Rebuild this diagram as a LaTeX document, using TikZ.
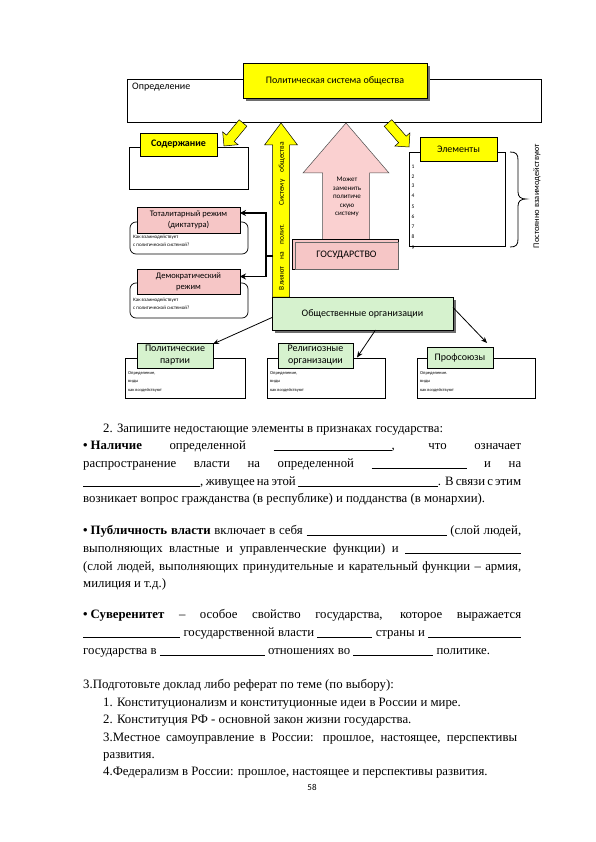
\documentclass[tikz,border=0pt]{standalone}
\usepackage{fontspec}
\setmainfont{Liberation Serif}
\newfontfamily\diagf{Carlito}
\usetikzlibrary{calc,arrows.meta}
\definecolor{ylw}{RGB}{255,255,0}
\definecolor{pnk}{RGB}{246,198,198}
\definecolor{pnkA}{RGB}{250,208,208}
\definecolor{grn}{RGB}{214,242,206}
\definecolor{shd}{RGB}{110,110,110}
\newcommand\bx[7]{\node[#2, minimum width={#5pt-#3pt}, minimum height={#6pt-#4pt}] (#1) at ({(#3+#5)/2},{(#4+#6)/2}) {#7};}
\newcommand\blockarrow[6]{%
  \coordinate (baT) at #2; \coordinate (baH) at #3;
  \coordinate (baN) at ($(baH)!#6!(baT)$);
  \draw[#1] ($(baT)!#4!90:(baH)$) -- ($(baN)!#4!-90:(baT)$) -- ($(baN)!#5!-90:(baT)$) -- (baH) -- ($(baN)!#5!90:(baT)$) -- ($(baN)!#4!90:(baT)$) -- ($(baT)!#4!-90:(baH)$) -- cycle;}
\newcommand\blank[1]{\rule[-1.5pt]{#1pt}{0.5pt}}
\tikzset{
 wbox/.style={draw=black, fill=white, line width=0.7pt, inner sep=0pt, outer sep=0pt},
 ylab/.style={draw=black, fill=ylw, line width=0.7pt, inner sep=0pt, outer sep=0pt, font=\diagf\fontsize{10}{12}\selectfont},
 plab/.style={draw=black, fill=pnk, line width=0.6pt, inner sep=0pt, outer sep=0pt, align=center, font=\diagf\fontsize{8.5}{11}\selectfont},
 glab/.style={draw=black, fill=grn, line width=0.6pt, inner sep=0pt, outer sep=0pt, align=center, font=\diagf\fontsize{10}{12}\selectfont},
 yarr/.style={draw=black, fill=ylw, line width=0.5pt},
 parr/.style={draw=black!70, fill=pnkA, line width=0.5pt},
 tiny/.style={inner sep=0pt, anchor=north west, align=left, font=\diagf\fontsize{5}{8.3}\selectfont},
 tinier/.style={inner sep=0pt, anchor=north west, align=left, font=\diagf\fontsize{4.5}{8.5}\selectfont},
 num/.style={inner sep=0pt, font=\diagf\fontsize{5.5}{6}\selectfont},
 conn/.style={draw=black, line width=0.8pt, -{Stealth[length=6pt,width=5pt]}},
 bconn/.style={draw=black, line width=1.3pt, -{Stealth[length=6pt,width=6pt]}},
 body/.style={inner sep=0pt, anchor=base west, font=\fontsize{12.8}{14}\selectfont},
}
\begin{document}
\begin{tikzpicture}[x=1pt,y=-1pt]
\useasboundingbox[fill=white] (0,0) rectangle (595,842);
% top definition box
\bx{def}{wbox}{127}{79}{541}{122}{}
\node[anchor=north west, inner sep=0pt, font=\diagf\fontsize{10}{11}\selectfont] (deft) at (132,83) {Определение};
\fill[shd] (246,66) rectangle (430,101);
\bx{title}{ylab}{243}{63}{427}{98}{Политическая система общества}
% small yellow arrows
\blockarrow{yarr}{(243,123)}{(224,146)}{5pt}{10pt}{10pt}
\blockarrow{yarr}{(388,123)}{(409,147)}{5pt}{10pt}{10pt}
% Содержание
\bx{sod}{wbox}{129}{147}{248}{189}{}
\bx{sodl}{ylab}{140}{133}{217}{156}{\bfseries Содержание}
% Элементы
\bx{el}{wbox}{409}{152}{505}{246}{}
\bx{ell}{ylab}{420}{137}{497}{161}{Элементы}
\foreach \i/\y in {1/167,2/176.5,3/186,4/196,5/206.5,6/217,7/227,8/237,9/247.5}
  \node[num] (n\i) at (413,\y) {\i};
\draw[line width=0.8pt] (510,152) .. controls (516,152) and (518,154) .. (518,160) -- (518,192) .. controls (518,197) and (521,199) .. (526,199) .. controls (521,199) and (518,201) .. (518,206) -- (518,239) .. controls (518,245) and (516,247) .. (510,247);
\node[rotate=90, inner sep=0pt, font=\diagf\fontsize{8.5}{10}\selectfont] (post) at (537,196) {Постоянно взаимодействуют};
% regimes
\bx{totf}{wbox, rounded corners=6pt}{130}{222}{248}{254}{}
\bx{totl}{plab}{137}{207}{240}{233}{Тоталитарный режим\\(диктатура)}
\node[tiny] (tots) at (133,235) {Как взаимодействует\\с политической системой?};
\bx{demf}{wbox, rounded corners=6pt}{130}{283}{248}{318}{}
\bx{deml}{plab}{137}{269}{240}{294}{Демократический\\режим}
\node[tiny] (dems) at (133,298) {Как взаимодействует\\с политической системой?};
% big arrows
\blockarrow{yarr}{(281,297)}{(281,123)}{8.5pt}{16.5pt}{22pt}
\node[rotate=90, inner sep=0pt, font=\diagf\fontsize{7.5}{8}\selectfont] (vt) at (282,216) {\makebox[148pt][s]{Влияют на полит. Систему общества}};
\blockarrow{parr}{(346,241)}{(346,123)}{23.5pt}{43pt}{50pt}
\node[inner sep=0pt, align=center, font=\diagf\fontsize{7}{8.6}\selectfont] (pt) at (347,197) {Может\\заменить\\политиче\\скую\\систему};
\bx{gosb}{draw=black, fill=pnk, line width=0.6pt, inner sep=0pt}{292}{239}{398}{269}{}
\bx{gos}{draw=black!60, fill=pnk, line width=0.5pt, inner sep=0pt, font=\diagf\fontsize{10}{12}\selectfont}{295}{242}{398}{269}{ГОСУДАРСТВО}
% connectors to regimes
\coordinate (jn) at (266,256);
\draw[line width=1.3pt] (273,256) -- (jn);
\draw[bconn] (jn) |- ([yshift=7pt]totl.east);
\draw[bconn] (jn) |- ([yshift=5pt]deml.east);
% social organisations
\fill[shd] (275,300) rectangle (456,333);
\bx{soc}{glab}{272}{297}{453}{330}{Общественные организации}
% bottom boxes
\bx{ppb}{wbox}{125}{358}{245}{398}{}
\bx{ppl}{glab}{137}{343}{213}{368}{Политические\\партии}
\node[tinier] (ppt) at (128,371) {Определение,\\виды\\как воздействуют};
\bx{rob}{wbox}{267}{358}{385}{398}{}
\bx{rol}{glab}{278}{343}{353}{368}{Религиозные\\организации}
\node[tinier] (rot) at (270,371) {Определение,\\виды\\как воздействуют};
\bx{pfb}{wbox}{417}{358}{535}{398}{}
\bx{pfl}{glab}{427}{347}{493}{368}{Профсоюзы}
\node[tinier] (pft) at (420,371) {Определение.\\виды\\как воздействуют};
\draw[conn] ([yshift=-4pt]soc.west) -- ([yshift=-1pt]ppl.north east);
\draw[conn] ([xshift=13pt]soc.south) -- ([xshift=4pt,yshift=-2pt]rol.east);
\draw[conn] ([yshift=6pt]soc.east) -- ([xshift=-6pt,yshift=4pt]pfl.north east);
% body text
\node[body] (h2) at (103,432) {2. Запишите недостающие элементы в признаках государства:};
\node[body] (a1) at (83,449) {\makebox[438pt][s]{\mbox{\textbf{•\kern3pt Наличие}} определенной \blank{118}, что означает}};
\node[body] (a2) at (83,467) {\makebox[438pt][s]{распространение власти на определенной \blank{95} и на}};
\node[body] (a3) at (83,485) {\makebox[438pt][s]{\blank{117}, живущее на этой \blank{140}. В связи с этим}};
\node[body] (a4) at (83,502) {возникает вопрос гражданства (в республике) и подданства (в монархии).};
\node[body] (b1) at (83,534) {\makebox[438pt][s]{\mbox{\textbf{•\kern3pt Публичность}} \textbf{власти} включает в себя \blank{140} (слой людей,}};
\node[body] (b2) at (83,552) {\makebox[438pt][s]{выполняющих властные и управленческие функции) и \blank{116}}};
\node[body] (b3) at (83,570) {\makebox[438pt][s]{(слой людей, выполняющих принудительные и карательный функции – армия,}};
\node[body] (b4) at (83,587) {милиция и т.д.)};
\node[body] (c1) at (83,618) {\makebox[438pt][s]{\mbox{\textbf{•\kern3pt Суверенитет}} – особое свойство государства, которое выражается}};
\node[body] (c2) at (83,636) {\makebox[438pt][s]{\blank{97} государственной власти \blank{55} страны и \blank{93}}};
\node[body] (c3) at (83,654) {государства в \blank{105} отношениях во \blank{80} политике.};
\node[body] (d0) at (83,688) {3.Подготовьте доклад либо реферат по теме (по выбору):};
\node[body] (d1) at (103,706) {1. Конституционализм и конституционные идеи в России и мире.};
\node[body] (d2) at (103,723) {2. Конституция РФ - основной закон жизни государства.};
\node[body] (d3) at (103,741) {\makebox[414pt][s]{3.Местное самоуправление в России: прошлое, настоящее, перспективы}};
\node[body] (d3b) at (103,758) {развития.};
\node[body] (d4) at (103,775) {4.Федерализм в России: прошлое, настоящее и перспективы развития.};
\node[inner sep=0pt, font=\diagf\fontsize{9}{10}\selectfont] (pg) at (312,787) {58};
\end{tikzpicture}
\end{document}
